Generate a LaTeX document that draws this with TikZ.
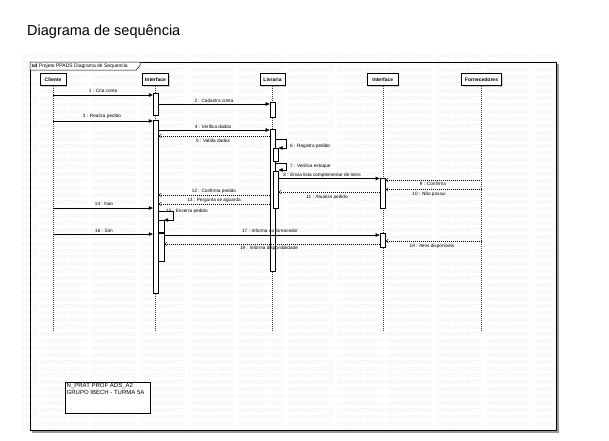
\documentclass[tikz,border=0pt]{standalone}
\usepackage{fontspec}
\setmainfont{Liberation Sans}
\usetikzlibrary{arrows.meta,shadows}
\begin{document}
\begin{tikzpicture}[x=1pt,y=-1pt,
  head/.style={draw, fill=white, line width=0.5pt, font=\bfseries\fontsize{5}{6}\selectfont, minimum height=12pt, inner sep=0pt, drop shadow={shadow xshift=1pt,shadow yshift=-1pt,fill=black!35}},
  life/.style={draw=black!75, line width=0.4pt, dash pattern=on 1pt off 1pt},
  actbar/.style={draw, fill=white, line width=0.45pt, minimum width=5.5pt, inner sep=0pt},
  msg/.style={line width=0.45pt, -{Triangle[length=4pt,width=3.5pt]}},
  ret/.style={line width=0.45pt, dash pattern=on 1pt off 1pt, -{Straight Barb[length=2.2pt,width=3.5pt]}},
  lbl/.style={font=\fontsize{4.7}{5.5}\selectfont, inner sep=0pt},
  wm/.style={font=\fontsize{5.8}{6}\selectfont, text=black!6, inner sep=0pt, anchor=west}
]
\useasboundingbox[fill=white] (0,0) rectangle (609,440);

% title
\node[anchor=base west, font=\fontsize{14.5}{17}\selectfont, inner sep=0pt] (title) at (27,35) {Diagrama de sequência};

% watermark
\begin{scope}
  \clip (22,53) rectangle (556,431);
  \foreach \r in {0,...,54} {
    \foreach \c in {0,...,11} {
      \node[wm] at ({-8.3+49.3*\c},{56.7+6.94*\r}) {UNREGISTERED};
    }
  }
\end{scope}

% frame
\draw[black!40, line width=1.6pt] (557.8,64) -- (557.8,431.8) -- (32,431.8);
\draw[line width=0.5pt] (30,62) rectangle (556,430);
\draw[line width=0.5pt, fill=white] (30,62) -- (140,62) -- (140,65.5) -- (136,70) -- (30,70) -- cycle;
\node[anchor=west, font=\fontsize{5}{6}\selectfont, inner sep=0pt] (sdlabel) at (31.5,66) {\textbf{sd} Projeto PPADS Diagrama de Sequencia};

% lifeline heads
\node[head, minimum width=26pt] (cli) at (53,79.5) {Cliente};
\node[head, minimum width=26pt] (int1) at (155.5,79.5) {Interface};
\node[head, minimum width=25pt] (liv) at (272.5,79.5) {Livraria};
\node[head, minimum width=31pt] (int2) at (382.8,79.5) {Interface};
\node[head, minimum width=40pt] (forn) at (481.5,79.5) {Fornecedores};

% lifelines
\coordinate (endline) at (0,330);
\foreach \n in {cli,int1,liv,int2,forn} {
  \draw[life] (\n.south) -- (\n.south |- endline);
}

% activation bars
\node[actbar, minimum height=22pt] (i1a) at (155.8,104) {};
\node[actbar, minimum height=173pt] (i1b) at (155.8,206.5) {};
\node[actbar, minimum height=15pt] (liva) at (272.6,109.5) {};
\node[actbar, minimum height=142pt] (livb) at (272.6,200) {};
\node[actbar, minimum height=13pt] (liv6) at (275.6,154.5) {};
\node[actbar, minimum height=37pt] (liv7) at (275.6,189.5) {};
\node[actbar, minimum height=30pt] (i2a) at (382.6,193) {};
\node[actbar, minimum height=14pt] (i2b) at (382.6,240) {};
\node[actbar, minimum height=12pt] (i1c) at (161.2,226) {};
\node[actbar, minimum height=28pt] (i1d) at (161.2,247) {};

% messages
\draw[msg] (cli |- 0,95) -- (i1a.west |- 0,95);
\node[lbl] (l1) at (103,90.5) {1 : Cria conta};
\draw[msg] (i1a.east |- 0,104) -- (liva.west |- 0,104);
\node[lbl] (l2) at (214,100.5) {2 : Cadastra conta};
\draw[msg] (cli |- 0,121) -- (i1b.west |- 0,121);
\node[lbl] (l3) at (102,116.5) {3 : Realiza pedido};
\draw[msg] (i1b.east |- 0,130) -- (livb.west |- 0,130);
\node[lbl] (l4) at (213,126.5) {4 : Verifica dados};
\draw[ret] (livb.west |- 0,136) -- (i1b.east |- 0,136);
\node[lbl] (l5) at (213,141) {5 : Valida dados};
\draw[msg] (livb.east |- 0,139) -- ++(11,0) |- (liv6.east |- 0,148);
\node[lbl, anchor=west] (l6) at (290,146) {6 : Registra pedido};
\draw[msg] (livb.east |- 0,163) -- ++(11,0) |- (liv7.east |- 0,170);
\node[lbl, anchor=west] (l7) at (290,166) {7 : Verifica estoque};
\draw[msg] (liv7.east |- 0,178.5) -- (i2a.west |- 0,178.5);
\node[lbl] (l8) at (322,175) {8 : Envia lista complementar de itens};
\draw[ret] (forn |- 0,180) -- (i2a.east |- 0,180);
\node[lbl] (l9) at (433,184) {9 : Confirma};
\draw[ret] (forn |- 0,189.5) -- (i2a.east |- 0,189.5);
\node[lbl] (l10) at (429,194) {10 : Não possui};
\draw[ret] (i2a.west |- 0,192) -- (liv7.east |- 0,192);
\node[lbl] (l11) at (327,197) {11 : Atualiza pedido};
\draw[ret] (livb.west |- 0,195) -- (i1b.east |- 0,195);
\node[lbl] (l12) at (214,190.8) {12 : Confirma pedido};
\draw[ret] (livb.west |- 0,204) -- (i1b.east |- 0,204);
\node[lbl] (l13) at (214,200.3) {13 : Pergunta se aguarda};
\draw[msg] (cli |- 0,208) -- (i1b.west |- 0,208);
\node[lbl] (l14) at (104,204) {14 : Nao};
\draw[msg] (i1b.east |- 0,211.5) -- ++(14,0) |- (i1c.east |- 0,220);
\node[lbl, anchor=west] (l15) at (166,211.5) {15 : Encerra pedido};
\draw[msg] (cli |- 0,234) -- (i1b.west |- 0,234);
\node[lbl] (l16) at (104,230.5) {16 : Sim};
\draw[msg] (i1d.east |- 0,235) -- (i2b.west |- 0,235);
\node[lbl] (l17) at (270,231) {17 : Informa ao fornecedor};
\draw[ret] (forn |- 0,241) -- (i2b.east |- 0,241);
\node[lbl] (l18) at (432,246) {18 : Itens disponíveis};
\draw[ret] (i2b.west |- 0,244) -- (i1d.east |- 0,244);
\node[lbl] (l19) at (269,248.5) {19 : Informa disponibilidade};

% note
\node[draw, fill=white, line width=0.5pt, minimum width=85pt, minimum height=31pt, inner sep=0pt, drop shadow={shadow xshift=1pt,shadow yshift=-1pt,fill=black!30}] (note) at (107.5,397.5) {};
\node[anchor=north west, align=left, font=\fontsize{6}{6.8}\selectfont, inner sep=0pt] (notetext) at (66.5,383.5) {N\_PRAT PROF ADS\_A2\\GRUPO IBECH - TURMA 5A};
\end{tikzpicture}
\end{document}
